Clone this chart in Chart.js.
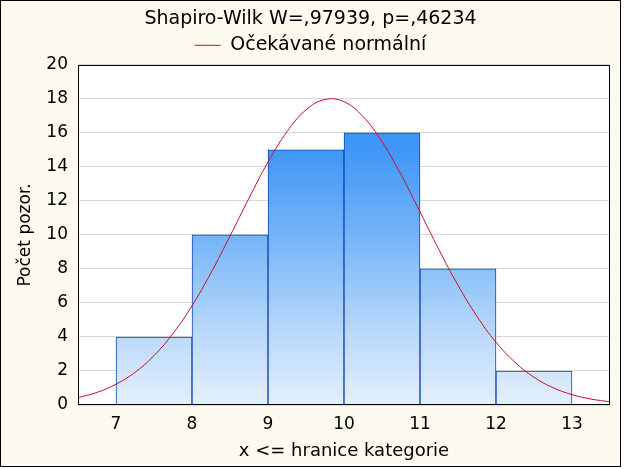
<!DOCTYPE html>
<html>
<head>
<meta charset="utf-8">
<script src="https://cdn.jsdelivr.net/npm/chart.js@4.4.1/dist/chart.umd.min.js"></script>
<style>
  html, body { margin: 0; padding: 0; background: #ffffff; }
  #frame {
    position: absolute; left: 0; top: 0;
    width: 621px; height: 467px; box-sizing: border-box;
    border: 1px solid #000; background: #fdfaf0;
  }
  #chart { display: block; }
</style>
</head>
<body>
<div id="frame"><canvas id="chart" width="619" height="465"></canvas></div>
<script>
/* ── Data ──────────────────────────────────────────────────────────────── */
const binEdges   = [7, 8, 9, 10, 11, 12, 13];
const binCounts  = [4, 10, 15, 16, 8, 2];
const xTicks     = [7, 8, 9, 10, 11, 12, 13];
const curveX     = [6.5, 6.75, 7, 7.25, 7.5, 7.75, 8, 8.25, 8.5, 8.75, 9, 9.25, 9.5, 9.75,
                    10, 10.25, 10.5, 10.75, 11, 11.25, 11.5, 11.75, 12, 12.25, 12.5, 12.75,
                    13, 13.25, 13.5];
const curveY     = [0.43, 0.74, 1.22, 1.92, 2.90, 4.20, 5.83, 7.77, 9.93, 12.16, 14.28, 16.07,
                    17.35, 17.96, 17.83, 16.96, 15.48, 13.54, 11.36, 9.13, 7.04, 5.21, 3.69,
                    2.51, 1.63, 1.02, 0.61, 0.35, 0.19];

const FONT = 'DejaVu Sans';

/* white plot area + black frame round it */
const plotFrame = {
  id: 'plotFrame',
  beforeDraw(chart) {
    const { ctx, chartArea: a } = chart;
    ctx.save();
    ctx.fillStyle = '#ffffff';
    ctx.fillRect(a.left, a.top, a.right - a.left, a.bottom - a.top);
    ctx.restore();
  },
  afterDraw(chart) {
    const { ctx, chartArea: a } = chart;
    ctx.save();
    ctx.strokeStyle = '#000';
    ctx.lineWidth = 1;
    ctx.strokeRect(Math.round(a.left) + 0.5, Math.round(a.top) + 0.5,
                   Math.round(a.right - a.left) - 1, Math.round(a.bottom - a.top) - 1);
    ctx.restore();
  },
};

function barFill(context) {
  const area = context.chart.chartArea;
  if (!area) return '#8fc2f8';
  const g = context.chart.ctx.createLinearGradient(0, area.bottom, 0, area.top);
  g.addColorStop(0,    '#e4f0fd');
  g.addColorStop(0.2,  '#bcdafa');
  g.addColorStop(0.5,  '#74b4f8');
  g.addColorStop(0.75, '#3f97f6');
  g.addColorStop(1,    '#3590f5');
  return g;
}

new Chart(document.getElementById('chart'), {
  data: {
    datasets: [
      {
        type: 'line',
        label: 'Očekávané normální',
        data: curveX.map((x, i) => ({ x, y: curveY[i] })),
        borderColor: '#c8102e',
        borderWidth: 1,
        pointRadius: 0,
        tension: 0.4,
        order: 0,
      },
      {
        type: 'bar',
        label: 'Počet',
        data: binCounts.map((c, i) => ({ x: (binEdges[i] + binEdges[i + 1]) / 2, y: c })),
        backgroundColor: barFill,
        borderColor: '#0d40c0',
        borderWidth: 1,
        borderSkipped: 'bottom',
        barPercentage: 1,
        categoryPercentage: 1,
        order: 1,
      },
    ],
  },
  options: {
    responsive: false,
    animation: false,
    layout: { padding: { left: 10, right: 10, top: 0, bottom: 4 } },
    plugins: {
      title: {
        display: true,
        text: 'Shapiro-Wilk W=,97939, p=,46234',
        color: '#000',
        font: { family: FONT, size: 19, weight: 'normal' },
        padding: { top: 7, bottom: 0 },
      },
      legend: {
        display: true,
        labels: {
          filter: item => item.datasetIndex === 0,
          color: '#000',
          font: { family: FONT, size: 19 },
          usePointStyle: true,
          pointStyle: 'line',
          pointStyleWidth: 26,
          padding: 5,
        },
      },
      tooltip: { enabled: false },
    },
    scales: {
      x: {
        type: 'linear',
        min: 6.5,
        max: 13.5,
        offset: false,
        afterBuildTicks: s => { s.ticks = xTicks.map(v => ({ value: v })); },
        afterFit: s => { s.height = 57; },
        ticks: { color: '#000', font: { family: FONT, size: 17 }, padding: 9 },
        grid: { display: false, drawTicks: false },
        border: { display: false },
        title: {
          display: true,
          text: 'x <= hranice kategorie',
          color: '#000',
          font: { family: FONT, size: 18 },
          padding: { top: 4, bottom: 0 },
        },
      },
      y: {
        min: 0,
        max: 20,
        ticks: { stepSize: 2, color: '#000', font: { family: FONT, size: 17 }, padding: 10 },
        grid: { color: '#d9d9d9', drawTicks: false },
        border: { display: false },
        afterFit: s => { s.width = 67; },
        title: {
          display: true,
          text: 'Počet pozor.',
          color: '#000',
          font: { family: FONT, size: 17 },
          padding: { top: 4, bottom: 0 },
        },
      },
    },
  },
  plugins: [plotFrame],
});
</script>
</body>
</html>
